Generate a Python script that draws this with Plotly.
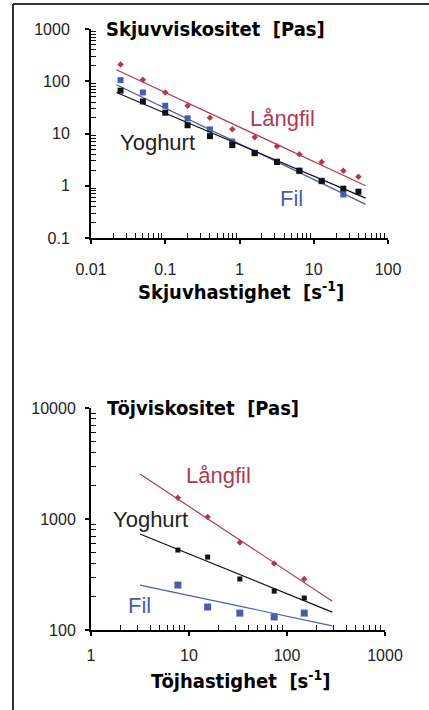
import plotly.graph_objects as go

# ---------------- data ----------------
shear_rate = [0.025, 0.05, 0.1, 0.2, 0.4, 0.8, 1.6, 3.2, 6.4, 12.8, 25, 40]
shear_langfil = [210, 107, 61, 34, 20, 12, 8.5, 5.7, 4.0, 2.85, 1.93, 1.48]
shear_yoghurt = [66, 41, 25, 14.4, 8.9, 6.0, 4.2, 2.85, 1.93, 1.24, 0.88, 0.77]
shear_rate_fil = [0.025, 0.05, 0.1, 0.2, 0.4, 0.8, 1.6, 3.2, 6.4, 12.8, 25]
shear_fil = [105, 61, 34, 19.5, 12, 7.0, 4.3, 2.9, 1.95, 1.22, 0.68]

shear_fit_x = [0.022, 50]
shear_fit_langfil = [166, 1.0]
shear_fit_yoghurt = [61, 0.58]
shear_fit_fil = [86, 0.44]

ext_rate = [7.7, 15.5, 33, 74, 150]
ext_langfil = [1550, 1040, 615, 397, 288]
ext_yoghurt = [525, 454, 288, 224, 194]
ext_fil = [254, 161, 142, 131, 142]

ext_fit_x = [3.16, 290]
ext_fit_langfil = [2540, 182]
ext_fit_yoghurt = [733, 145]
ext_fit_fil = [254, 109]

top_xticks = [0.01, 0.1, 1, 10, 100]
top_yticks = [0.1, 1, 10, 100, 1000]
bot_xticks = [1, 10, 100, 1000]
bot_yticks = [100, 1000, 10000]

# ---------------- styles ----------------
RED = "#b03a52"
BLUE = "#4d5caa"
BLACK = "#111111"
W, H = 429, 710


def px(x):
    return x / W


def py(y):
    return 1 - y / H


fig = go.Figure()


def add_series(xs, ys, fx, fy, color, symbol, size, xa, ya):
    fig.add_trace(go.Scatter(x=fx, y=fy, mode="lines", line=dict(color=color, width=1.2),
                             xaxis=xa, yaxis=ya, showlegend=False, hoverinfo="skip"))
    fig.add_trace(go.Scatter(x=xs, y=ys, mode="markers",
                             marker=dict(color=color, symbol=symbol, size=size),
                             xaxis=xa, yaxis=ya, showlegend=False))


# top chart
add_series(shear_rate, shear_langfil, shear_fit_x, shear_fit_langfil, RED, "diamond", 5, "x", "y")
add_series(shear_rate_fil, shear_fil, shear_fit_x, shear_fit_fil, BLUE, "square", 6, "x", "y")
add_series(shear_rate, shear_yoghurt, shear_fit_x, shear_fit_yoghurt, BLACK, "square", 6, "x", "y")
# bottom chart
add_series(ext_rate, ext_langfil, ext_fit_x, ext_fit_langfil, RED, "diamond", 5, "x2", "y2")
add_series(ext_rate, ext_yoghurt, ext_fit_x, ext_fit_yoghurt, BLACK, "square", 5, "x2", "y2")
add_series(ext_rate, ext_fil, ext_fit_x, ext_fit_fil, BLUE, "square", 7, "x2", "y2")

tickfont = dict(family="Liberation Sans, Arial", size=16, color="#222222")


def minor_vals(majors):
    return [m * d for d in majors[:-1] for m in range(2, 10)]


def main_axis(domain, rng, tickvals, anchor, standoff):
    return dict(
        type="log", domain=domain, range=rng, anchor=anchor,
        tickmode="array", tickvals=tickvals, ticktext=[f"{v:g}" for v in tickvals],
        ticks="outside", ticklen=4, tickwidth=1.5, tickcolor="black",
        minor=dict(tickmode="array", tickvals=minor_vals(tickvals), ticks="inside",
                   ticklen=5, tickwidth=1, tickcolor="black", showgrid=False),
        showline=True, linecolor="black", linewidth=2,
        showgrid=False, zeroline=False, tickfont=tickfont,
        ticklabelstandoff=standoff, automargin=False,
    )


top_xdom = [px(91), px(388)]
top_ydom = [py(238), py(29)]
bot_xdom = [px(91), px(385)]
bot_ydom = [py(630), py(408)]

fig.update_layout(
    width=W, height=H,
    margin=dict(l=0, r=0, t=0, b=0),
    paper_bgcolor="white", plot_bgcolor="white",
    showlegend=False,
    xaxis=main_axis(top_xdom, [-2, 2], top_xticks, "y", 12),
    yaxis=main_axis(top_ydom, [-1, 3], top_yticks, "x", 12),
    xaxis2=main_axis(bot_xdom, [0, 3], bot_xticks, "y2", 6),
    yaxis2=main_axis(bot_ydom, [2, 4], bot_yticks, "x2", 6),
)

title_font = dict(family="DejaVu Sans Condensed, DejaVu Sans", size=20, color="black", weight="bold")
label_font = dict(family="Liberation Sans, Arial", size=22)

annotations = [
    dict(text="Skjuvviskositet  [Pas]", x=px(104), y=py(29), xanchor="left", font=title_font),
    dict(text="Skjuvhastighet  [s<sup>-1</sup>]", x=px(241), y=py(291), xanchor="center", font=title_font),
    dict(text="Töjviskositet  [Pas]", x=px(105), y=py(408), xanchor="left", font=title_font),
    dict(text="Töjhastighet  [s<sup>-1</sup>]", x=px(241), y=py(680), xanchor="center", font=title_font),
    dict(text="Långfil", x=px(282), y=py(118), xanchor="center", font=dict(label_font, color=RED)),
    dict(text="Yoghurt", x=px(157), y=py(143), xanchor="center", font=dict(label_font, color="#222222")),
    dict(text="Fil", x=px(291), y=py(198), xanchor="center", font=dict(label_font, color=BLUE)),
    dict(text="Långfil", x=px(218), y=py(475), xanchor="center", font=dict(label_font, color=RED)),
    dict(text="Yoghurt", x=px(150), y=py(519), xanchor="center", font=dict(label_font, color="#222222")),
    dict(text="Fil", x=px(139), y=py(605), xanchor="center", font=dict(label_font, color=BLUE)),
]
for a in annotations:
    a.update(xref="paper", yref="paper", yanchor="middle", showarrow=False)
fig.update_layout(annotations=annotations)

# frame: top and left border
fig.add_shape(type="line", xref="paper", yref="paper", x0=px(13), x1=px(429), y0=py(4), y1=py(4),
              line=dict(color="#333333", width=2))
fig.add_shape(type="line", xref="paper", yref="paper", x0=px(13), x1=px(13), y0=py(4), y1=py(710),
              line=dict(color="#333333", width=2))

fig.write_html("out.html", config={"displayModeBar": False},
               post_script="document.body.style.margin='0';")
